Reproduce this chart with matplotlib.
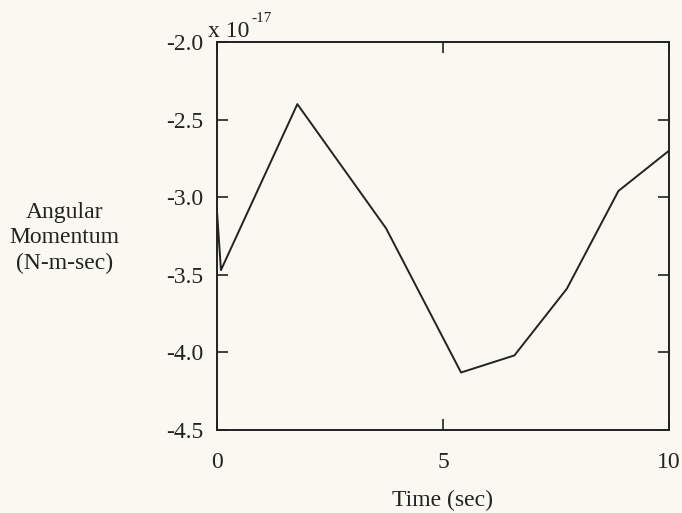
import numpy as np
import matplotlib.pyplot as plt

plt.rcParams['font.family'] = ['Liberation Serif', 'DejaVu Serif']

# angular momentum in units of 1e-17 N-m-sec
time_s = [0.0, 0.09, 1.78, 3.74, 5.40, 6.58, 7.74, 8.88, 10.0]
momentum = [-3.08, -3.47, -2.40, -3.20, -4.13, -4.02, -3.59, -2.96, -2.70]
yticks = [-2.0, -2.5, -3.0, -3.5, -4.0, -4.5]
xticks = [0, 5, 10]

bg = '#f9f9f1'
ink = '#222222'
fig = plt.figure(figsize=(6.82, 5.13), dpi=100, facecolor=bg)
ax = fig.add_axes([0.318, 0.162, 0.663, 0.756], facecolor=bg)

ax.plot(time_s, momentum, color=ink, lw=1.4)

ax.set_xlim(0, 10)
ax.set_ylim(-4.5, -2.0)
ax.set_xticks(xticks)
ax.set_yticks(yticks)
ax.set_yticklabels(['%.1f' % v for v in yticks])
ax.tick_params(direction='in', length=8, width=1.2, top=True, right=True,
               labelsize=17, colors=ink)
ax.tick_params(axis='x', pad=16)
ax.tick_params(axis='y', pad=10)
for s in ax.spines.values():
    s.set_linewidth(1.4)
    s.set_color(ink)

ax.set_xlabel('Time (sec)', fontsize=17, labelpad=12, color=ink)
fig.text(0.094, 0.536, 'Angular\nMomentum\n(N-m-sec)', ha='center', va='center',
         fontsize=17, color=ink, linespacing=1.25)
# offset text drawn by hand, as in the original
fig.text(0.305, 0.919, 'x 10', fontsize=17, color=ink, ha='left', va='bottom')
fig.text(0.368, 0.951, '-17', fontsize=11, color=ink, ha='left', va='bottom')

fig.savefig('out.png', dpi=100, facecolor=bg)
